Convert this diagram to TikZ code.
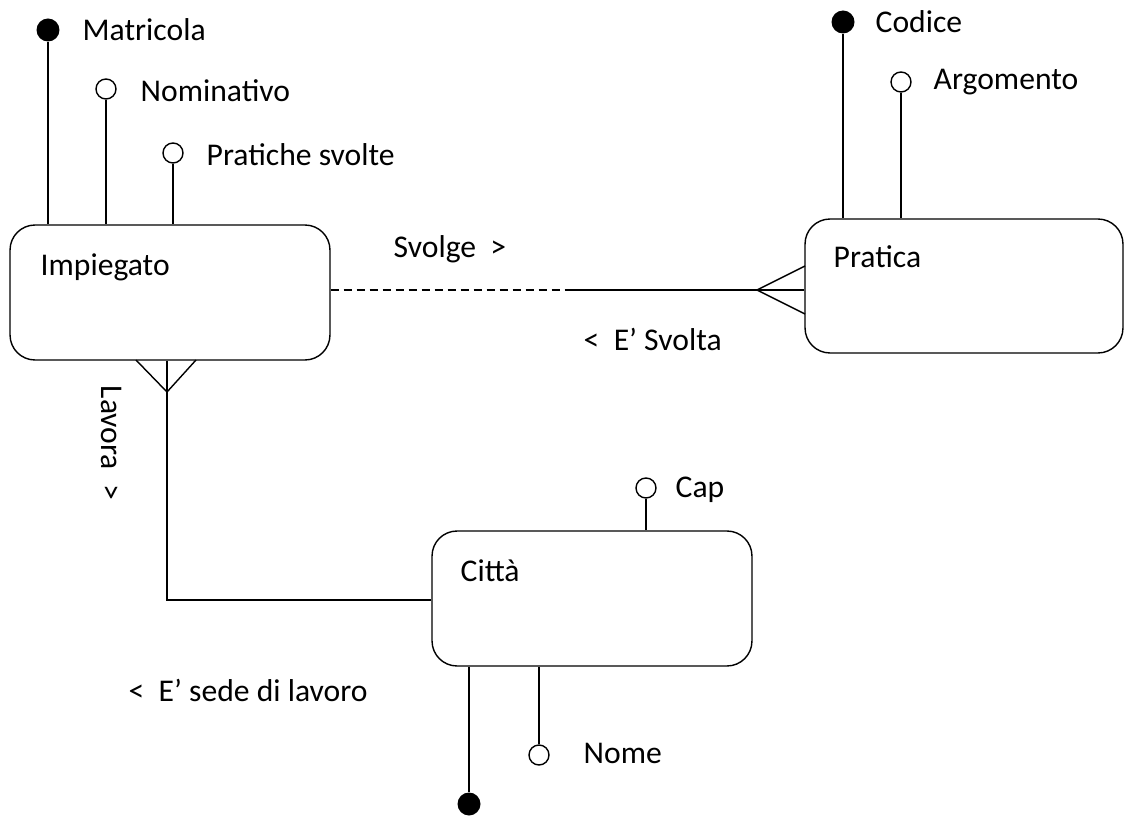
\documentclass[tikz,border=0pt]{standalone}
\usepackage{fontspec}
\setmainfont{Carlito}
\usetikzlibrary{positioning}

\tikzset{
    entita/.style={draw, line width=0.8pt, rounded corners=0.5cm, minimum width=6.4cm, minimum height=2.7cm},
    chiave/.style={circle, fill=black, inner sep=0pt, minimum size=0.46cm},
    attributo/.style={circle, draw, fill=white, line width=0.8pt, inner sep=0pt, minimum size=0.4cm},
    testo/.style={anchor=west, inner sep=0pt, font=\fontsize{18}{21}\selectfont}
}

\begin{document}
\begin{tikzpicture}[x=0.02cm, y=-0.02cm, line width=0.8pt]
            \useasboundingbox (0,0) rectangle (1125,817);

            % entita
            \node [entita] (imp) at ( 170, 292.5 ) {};
            \node [entita, minimum width=6.36cm, minimum height=2.68cm] (pra) at ( 964, 286 ) {};
            \node [entita] (cit) at ( 592, 598.5 ) {};
            \node [testo] (impt) at ( 40, 267 ) {Impiegato};
            \node [testo] (prat) at ( 833, 257 ) {Pratica};
            \node [testo] (citt) at ( 460, 571 ) {Città};

            % attributi di Impiegato
            \node [chiave] (matr) at ( 48, 30 ) {};
            \node [attributo] (nomi) at ( 106, 89 ) {};
            \node [attributo] (prsv) at ( 173, 153 ) {};
            \draw (matr) -- (matr |- imp.north);
            \draw (nomi) -- (nomi |- imp.north);
            \draw (prsv) -- (prsv |- imp.north);
            \node [testo] (matrt) at ( 82, 30 ) {Matricola};
            \node [testo] (nomit) at ( 140, 91 ) {Nominativo};
            \node [testo] (prsvt) at ( 206, 155 ) {Pratiche svolte};

            % attributi di Pratica
            \node [chiave] (codi) at ( 843, 22 ) {};
            \node [attributo] (argo) at ( 901, 82 ) {};
            \draw (codi) -- (codi |- pra.north);
            \draw (argo) -- (argo |- pra.north);
            \node [testo] (codit) at ( 875, 22 ) {Codice};
            \node [testo] (argot) at ( 933, 82 ) {Argomento};

            % attributi di Citta
            \node [attributo] (cap) at ( 646, 488 ) {};
            \node [attributo] (nome) at ( 539, 755 ) {};
            \node [chiave] (citk) at ( 469, 804 ) {};
            \draw (cap) -- (cap |- cit.north);
            \draw (nome) -- (nome |- cit.south);
            \draw (citk) -- (citk |- cit.south);
            \node [testo] (capt) at ( 675, 490 ) {Cap};
            \node [testo] (nomet) at ( 583, 753 ) {Nome};

            % Svolge
            \coordinate (meta) at ( 570, 290 );
            \coordinate (piedeP) at ( 757, 290 );
            \draw [dash pattern=on 0.16cm off 0.1cm] (imp.east |- meta) -- (meta);
            \draw (meta) -- (meta -| pra.west);
            \draw (piedeP) -- ( 805, 266 );
            \draw (piedeP) -- ( 805, 314 );
            \node [testo] (svol) at ( 393, 249 ) {Svolge \ >};
            \node [testo] (esvo) at ( 583, 339 ) {< \ E’ Svolta};

            % Lavora
            \coordinate (gomito) at ( 167, 600 );
            \coordinate (piedeI) at ( 167, 392 );
            \draw (imp.south -| gomito) -- (gomito) -- (gomito -| cit.west);
            \draw ( 136, 360 ) -- (piedeI) -- ( 196, 360 );
            \node [testo, anchor=center, rotate=-90] (lavo) at ( 112, 443 ) {Lavora \ >};
            \node [testo] (sede) at ( 128, 690 ) {< \ E’ sede di lavoro};
        \end{tikzpicture}
\end{document}
